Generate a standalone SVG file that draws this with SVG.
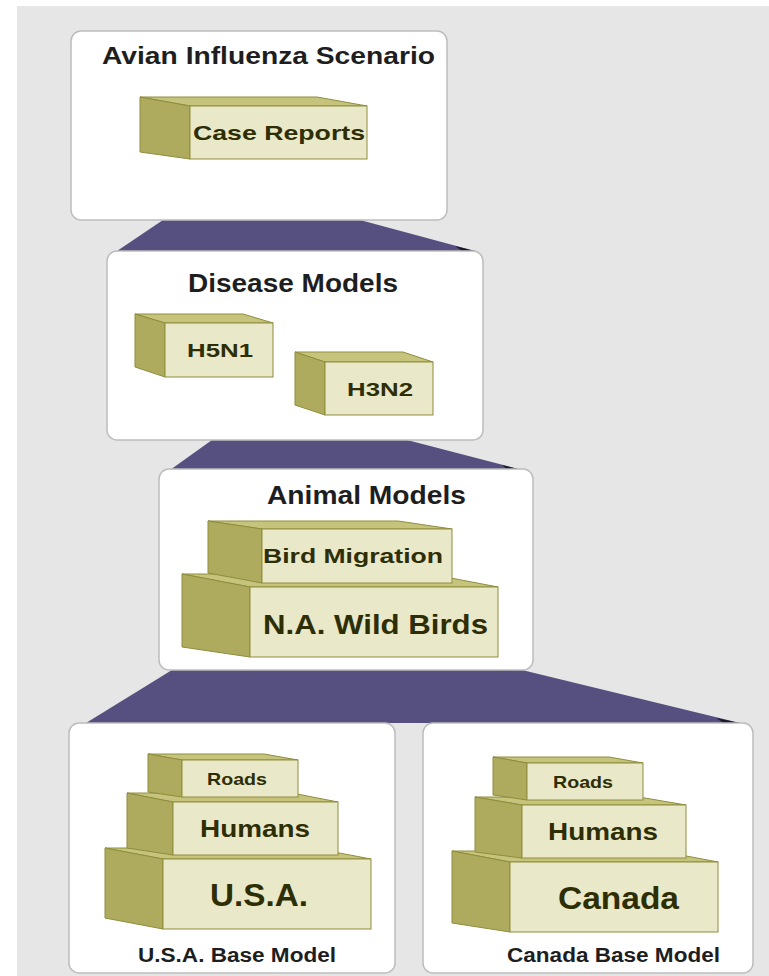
<svg xmlns="http://www.w3.org/2000/svg" width="769" height="976" viewBox="0 0 769 976">
<defs>
<style>
.panel{fill:#ffffff;stroke:#bdbdbd;stroke-width:1.5}
.trap{fill:#55507f}
.side{fill:#aeab5e;stroke:#8f8d3c;stroke-width:1}
.top{fill:#c6c47c;stroke:#8f8d3c;stroke-width:1}
.front{fill:#e9e8c8;stroke:#8f8d3c;stroke-width:1}
.title{font-family:"Liberation Sans",Arial,sans-serif;font-weight:bold;fill:#1e1e1e}
.lbl{font-family:"Liberation Sans",Arial,sans-serif;font-weight:bold;fill:#2e2e05}
</style>
</defs>
<rect x="0" y="0" width="769" height="976" fill="#ffffff"/>
<rect x="17" y="6" width="752" height="970" fill="#e6e6e6"/>
<g id="connectors">
<polygon class="trap" points="163,220 360,220 475,251 117,251"/>
<polygon points="455,246 475,251 462,251" fill="#1a1a2a"/>
<polygon class="trap" points="212,440 407,440 522,470 170,470"/>
<polygon points="502,465 522,470 508,470" fill="#1a1a2a"/>
<polygon class="trap" points="172,670 522,670 740,723 86,723"/>
<polygon points="716,718 740,723 724,723" fill="#1a1a2a"/>
</g>
<g id="scenario">
<rect class="panel" x="71" y="31" width="376" height="189" rx="10"/>
<text class="title" x="102" y="64" font-size="24" textLength="333" lengthAdjust="spacingAndGlyphs">Avian Influenza Scenario</text>
<g id="case-reports">
<polygon class="top" points="140,97 317,97 367,106 190,106"/>
<polygon class="side" points="140,97 190,106 190,159 140,152"/>
<rect class="front" x="190" y="106" width="177" height="53"/>
<text class="lbl" x="193" y="140" font-size="21" textLength="172" lengthAdjust="spacingAndGlyphs">Case Reports</text>
</g>
</g>
<g id="disease-models">
<rect class="panel" x="107" y="251" width="376" height="189" rx="10"/>
<text class="title" x="188" y="292" font-size="25" textLength="210" lengthAdjust="spacingAndGlyphs">Disease Models</text>
<g id="h5n1">
<polygon class="top" points="135,314 243,314 273,323 165,323"/>
<polygon class="side" points="135,314 165,323 165,377 135,367"/>
<rect class="front" x="165" y="323" width="108" height="54"/>
<text class="lbl" x="187" y="357" font-size="19" textLength="66" lengthAdjust="spacingAndGlyphs">H5N1</text>
</g>
<g id="h3n2">
<polygon class="top" points="295,352 403,352 433,362 325,362"/>
<polygon class="side" points="295,352 325,362 325,415 295,405"/>
<rect class="front" x="325" y="362" width="108" height="53"/>
<text class="lbl" x="347" y="396" font-size="19" textLength="66" lengthAdjust="spacingAndGlyphs">H3N2</text>
</g>
</g>
<g id="animal-models">
<rect class="panel" x="159" y="469" width="374" height="201" rx="10"/>
<text class="title" x="267" y="504" font-size="25" textLength="199" lengthAdjust="spacingAndGlyphs">Animal Models</text>
<g id="na-wild-birds">
<polygon class="top" points="182,574 430,574 498,587 250,587"/>
<polygon class="side" points="182,574 250,587 250,657 182,647"/>
<rect class="front" x="250" y="587" width="248" height="70"/>
<text class="lbl" x="263" y="634" font-size="27" textLength="225" lengthAdjust="spacingAndGlyphs">N.A. Wild Birds</text>
</g>
<g id="bird-migration">
<polygon class="top" points="208,521 398,521 452,529 262,529"/>
<polygon class="side" points="208,521 262,529 262,583 208,573"/>
<rect class="front" x="262" y="529" width="190" height="54"/>
<text class="lbl" x="263" y="563" font-size="20" textLength="180" lengthAdjust="spacingAndGlyphs">Bird Migration</text>
</g>
</g>
<g id="usa-base-model">
<rect class="panel" x="69" y="723" width="326" height="250" rx="10"/>
<g id="usa">
<polygon class="top" points="105,848 313,848 371,859 163,859"/>
<polygon class="side" points="105,848 163,859 163,929 105,918"/>
<rect class="front" x="163" y="859" width="208" height="70"/>
<text class="lbl" x="210" y="906" font-size="32" textLength="98" lengthAdjust="spacingAndGlyphs">U.S.A.</text>
</g>
<g id="usa-humans">
<polygon class="top" points="127,793 292,793 338,802 173,802"/>
<polygon class="side" points="127,793 173,802 173,855 127,848"/>
<rect class="front" x="173" y="802" width="165" height="53"/>
<text class="lbl" x="200" y="837" font-size="24" textLength="110" lengthAdjust="spacingAndGlyphs">Humans</text>
</g>
<g id="usa-roads">
<polygon class="top" points="148,754 264,754 298,760 182,760"/>
<polygon class="side" points="148,754 182,760 182,797 148,792"/>
<rect class="front" x="182" y="760" width="116" height="37"/>
<text class="lbl" x="207" y="785" font-size="17" textLength="60" lengthAdjust="spacingAndGlyphs">Roads</text>
</g>
<text class="title" x="138" y="962" font-size="20" textLength="198" lengthAdjust="spacingAndGlyphs">U.S.A. Base Model</text>
</g>
<g id="canada-base-model">
<rect class="panel" x="423" y="723" width="330" height="250" rx="10"/>
<g id="canada">
<polygon class="top" points="452,851 660,851 718,862 510,862"/>
<polygon class="side" points="452,851 510,862 510,932 452,923"/>
<rect class="front" x="510" y="862" width="208" height="70"/>
<text class="lbl" x="558" y="909" font-size="32" textLength="121" lengthAdjust="spacingAndGlyphs">Canada</text>
</g>
<g id="canada-humans">
<polygon class="top" points="475,797 639,797 686,805 522,805"/>
<polygon class="side" points="475,797 522,805 522,858 475,852"/>
<rect class="front" x="522" y="805" width="164" height="53"/>
<text class="lbl" x="548" y="840" font-size="24" textLength="110" lengthAdjust="spacingAndGlyphs">Humans</text>
</g>
<g id="canada-roads">
<polygon class="top" points="493,757 609,757 643,763 527,763"/>
<polygon class="side" points="493,757 527,763 527,800 493,795"/>
<rect class="front" x="527" y="763" width="116" height="37"/>
<text class="lbl" x="553" y="788" font-size="17" textLength="60" lengthAdjust="spacingAndGlyphs">Roads</text>
</g>
<text class="title" x="507" y="962" font-size="20" textLength="213" lengthAdjust="spacingAndGlyphs">Canada Base Model</text>
</g>
</svg>
